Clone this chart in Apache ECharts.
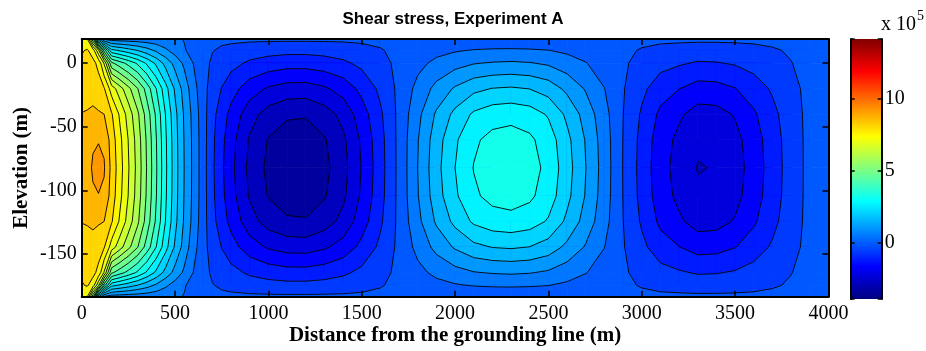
<!DOCTYPE html>
<html>
<head>
<meta charset="utf-8">
<script src="https://cdn.jsdelivr.net/npm/echarts@6/dist/echarts.min.js"></script>
<style>
html, body { margin: 0; padding: 0; background: #fff; }
#chart { width: 926px; height: 351px; }
</style>
</head>
<body>
<div id="chart"></div>
<script>
// grid nodes: distance from the grounding line (m) and elevation (m)
var distance = [0, 30, 60, 90, 120, 160, 200, 250, 300, 350, 400, 450, 500, 550, 600, 650, 700, 750, 800,
    900, 1000, 1100, 1200, 1300, 1400, 1500, 1600, 1700, 1800, 1900, 2000, 2100, 2200, 2300, 2400, 2500,
    2600, 2700, 2800, 2900, 3000, 3100, 3200, 3300, 3400, 3500, 3600, 3700, 3800, 3900, 4000];
var elevation = [18.5, 9.6, -0.4, -20.4, -40.4, -60.4, -82.4, -104.4, -124.4, -144.4, -164.4, -174.4, -183.3];

// shear stress (x 10^5), one array per elevation row
var zTop = [7.9, 7.6, 5.5, 2.2, 0.9, 0.72, 0.7, 0.68, 0.66, 0.64, 0.62, 0.6, 0.55, 0.42, 0.28, 0.1, 0, 0, 0,
    0, 0, 0, 0, 0, 0, 0, 0, 0, 0, 0, 0, 0, 0, 0, 0, 0, 0, 0, 0, 0, 0, 0, 0, 0, 0, 0, 0, 0, 0, 0, 0];
var z10 = [8.1, 8.2, 7.9, 6.6, 4.6, 2.82, 2.6, 2.34, 2.08, 1.77, 1.44, 1.09, 0.78, 0.5, 0.22, 0.03, -0.08, -0.17, -0.24,
    -0.37, -0.45, -0.49, -0.49, -0.45, -0.38, -0.26, -0.13, 0.01, 0.15, 0.29, 0.4, 0.48, 0.52, 0.53, 0.51, 0.46,
    0.35, 0.23, 0.11, -0.02, -0.13, -0.23, -0.29, -0.35, -0.34, -0.3, -0.23, -0.14, -0.06, 0.01, 0.02];
var z0 = [8.25, 8.3, 8.3, 8.0, 7.0, 4.96, 4.58, 4.12, 3.65, 3.1, 2.52, 1.91, 1.36, 0.89, 0.42, 0.06, -0.17, -0.33, -0.48,
    -0.74, -0.89, -0.98, -0.98, -0.9, -0.75, -0.52, -0.26, 0.02, 0.3, 0.58, 0.8, 0.97, 1.04, 1.07, 1.03, 0.92,
    0.7, 0.47, 0.23, -0.03, -0.26, -0.47, -0.59, -0.7, -0.68, -0.6, -0.45, -0.29, -0.11, 0.02, 0.05];
var z20 = [8.4, 8.45, 8.5, 8.4, 8.2, 7.35, 6.79, 6.11, 5.42, 4.6, 3.74, 2.84, 2.02, 1.32, 0.65, 0.1, -0.34, -0.67, -0.98,
    -1.49, -1.82, -1.98, -2.0, -1.83, -1.53, -1.05, -0.53, 0.03, 0.61, 1.17, 1.62, 1.96, 2.12, 2.17, 2.09, 1.86,
    1.42, 0.95, 0.46, -0.06, -0.52, -0.95, -1.19, -1.42, -1.39, -1.22, -0.92, -0.58, -0.23, 0.03, 0.09];
var z40 = [8.72, 8.75, 8.8, 8.75, 8.7, 8.21, 7.58, 6.82, 6.05, 5.14, 4.18, 3.17, 2.26, 1.47, 0.8, 0.13, -0.47, -0.94, -1.36,
    -2.08, -2.53, -2.76, -2.79, -2.55, -2.13, -1.46, -0.74, 0.04, 0.85, 1.63, 2.25, 2.74, 2.96, 3.02, 2.91, 2.59,
    1.98, 1.33, 0.64, -0.09, -0.72, -1.32, -1.66, -1.97, -1.94, -1.7, -1.28, -0.81, -0.32, 0.04, 0.13];
var z60 = [8.95, 9.05, 9.2, 9.2, 9.15, 8.46, 7.82, 7.03, 6.24, 5.3, 4.31, 3.27, 2.33, 1.51, 0.84, 0.15, -0.53, -1.06, -1.54,
    -2.36, -2.88, -3.14, -3.17, -2.9, -2.41, -1.66, -0.84, 0.05, 0.97, 1.85, 2.56, 3.11, 3.36, 3.43, 3.3, 2.94,
    2.25, 1.51, 0.72, -0.11, -0.82, -1.5, -1.88, -2.24, -2.2, -1.93, -1.45, -0.92, -0.37, 0.05, 0.14];
var z82 = [9.0, 9.1, 9.3, 9.55, 9.3, 8.55, 7.9, 7.1, 6.3, 5.35, 4.35, 3.3, 2.35, 1.53, 0.85, 0.15, -0.55, -1.1, -1.6,
    -2.45, -2.98, -3.25, -3.28, -3.0, -2.5, -1.72, -0.87, 0.05, 1.0, 1.92, 2.65, 3.22, 3.48, 3.55, 3.42, 3.05,
    2.33, 1.56, 0.75, -0.12, -0.85, -1.55, -1.95, -2.32, -2.28, -2.0, -1.5, -0.95, -0.38, 0.05, 0.15];
var z104 = [8.95, 9.05, 9.2, 9.22, 9.15, 8.46, 7.82, 7.03, 6.24, 5.3, 4.31, 3.27, 2.33, 1.51, 0.84, 0.15, -0.53, -1.06, -1.54,
    -2.36, -2.88, -3.14, -3.17, -2.9, -2.41, -1.66, -0.84, 0.05, 0.97, 1.85, 2.56, 3.11, 3.36, 3.43, 3.3, 2.94,
    2.25, 1.51, 0.72, -0.11, -0.82, -1.5, -1.88, -2.24, -2.2, -1.93, -1.45, -0.92, -0.37, 0.05, 0.14];
var z124 = [8.72, 8.75, 8.8, 8.75, 8.7, 8.21, 7.58, 6.82, 6.05, 5.14, 4.18, 3.17, 2.26, 1.47, 0.8, 0.13, -0.47, -0.94, -1.36,
    -2.08, -2.53, -2.76, -2.79, -2.55, -2.13, -1.46, -0.74, 0.04, 0.85, 1.63, 2.25, 2.74, 2.96, 3.02, 2.91, 2.59,
    1.98, 1.33, 0.64, -0.09, -0.72, -1.32, -1.66, -1.97, -1.94, -1.7, -1.28, -0.81, -0.32, 0.04, 0.13];
var z144 = [8.4, 8.45, 8.5, 8.4, 8.2, 7.35, 6.79, 6.11, 5.42, 4.6, 3.74, 2.84, 2.02, 1.32, 0.65, 0.1, -0.34, -0.67, -0.98,
    -1.49, -1.82, -1.98, -2.0, -1.83, -1.53, -1.05, -0.53, 0.03, 0.61, 1.17, 1.62, 1.96, 2.12, 2.17, 2.09, 1.86,
    1.42, 0.95, 0.46, -0.06, -0.52, -0.95, -1.19, -1.42, -1.39, -1.22, -0.92, -0.58, -0.23, 0.03, 0.09];
var z164 = [8.25, 8.3, 8.3, 8.0, 7.0, 4.96, 4.58, 4.12, 3.65, 3.1, 2.52, 1.91, 1.36, 0.89, 0.42, 0.06, -0.17, -0.33, -0.48,
    -0.74, -0.89, -0.98, -0.98, -0.9, -0.75, -0.52, -0.26, 0.02, 0.3, 0.58, 0.8, 0.97, 1.04, 1.07, 1.03, 0.92,
    0.7, 0.47, 0.23, -0.03, -0.26, -0.47, -0.59, -0.7, -0.68, -0.6, -0.45, -0.29, -0.11, 0.02, 0.05];
var z174 = [8.1, 8.2, 7.9, 6.6, 4.6, 2.82, 2.6, 2.34, 2.08, 1.77, 1.44, 1.09, 0.78, 0.5, 0.22, 0.03, -0.08, -0.17, -0.24,
    -0.37, -0.45, -0.49, -0.49, -0.45, -0.38, -0.26, -0.13, 0.01, 0.15, 0.29, 0.4, 0.48, 0.52, 0.53, 0.51, 0.46,
    0.35, 0.23, 0.11, -0.02, -0.13, -0.23, -0.29, -0.35, -0.34, -0.3, -0.23, -0.14, -0.06, 0.01, 0.02];
var zBottom = [7.9, 7.6, 5.5, 2.2, 0.9, 0.72, 0.7, 0.68, 0.66, 0.64, 0.62, 0.6, 0.55, 0.42, 0.28, 0.1, 0, 0, 0,
    0, 0, 0, 0, 0, 0, 0, 0, 0, 0, 0, 0, 0, 0, 0, 0, 0, 0, 0, 0, 0, 0, 0, 0, 0, 0, 0, 0, 0, 0, 0, 0];
var stress = [zTop, z10, z0, z20, z40, z60, z82, z104, z124, z144, z164, z174, zBottom];

// colour scale (x 10^5) and contour levels
var colorMin = -3.95;
var colorMax = 14.2;
var colorTicks = [0, 5, 10];
var levelCount = 33;

var levelStep = (colorMax - colorMin) / levelCount;
var levels = [];
for (var k = 0; k <= levelCount; k++) {
    levels.push(colorMin + k * levelStep);
}

// matlab jet
function jet(f) {
    function c(x) { return Math.round(255 * Math.max(0, Math.min(1, x))); }
    return 'rgb(' + c(Math.min(4 * f - 1.5, -4 * f + 4.5)) + ',' +
        c(Math.min(4 * f - 0.5, -4 * f + 3.5)) + ',' +
        c(Math.min(4 * f + 0.5, -4 * f + 2.5)) + ')';
}
var bandColors = levels.map(function(l, i) { return jet(i / levelCount); });

function bandOf(v) {
    var b = Math.floor((v - colorMin) / levelStep);
    return Math.max(0, Math.min(levelCount - 1, b));
}

// one item per grid cell: corners and the four node values
var cells = [];
for (var j = 0; j < elevation.length - 1; j++) {
    for (var i = 0; i < distance.length - 1; i++) {
        cells.push([distance[i], elevation[j], distance[i + 1], elevation[j + 1],
            stress[j][i], stress[j][i + 1], stress[j + 1][i + 1], stress[j + 1][i]]);
    }
}

function cellGeom(api) {
    var x0 = api.value(0), y0 = api.value(1), x1 = api.value(2), y1 = api.value(3);
    return {
        p: [api.coord([x0, y0]), api.coord([x1, y0]), api.coord([x1, y1]), api.coord([x0, y1])],
        v: [api.value(4), api.value(5), api.value(6), api.value(7)]
    };
}

function lerp(a, b, t) { return [a[0] + t * (b[0] - a[0]), a[1] + t * (b[1] - a[1])]; }

function regionAbove(p, v, L) {
    var out = [];
    for (var i = 0; i < 4; i++) {
        var n = (i + 1) % 4;
        var a = v[i] >= L, b = v[n] >= L;
        if (a) out.push(p[i]);
        if (a !== b) out.push(lerp(p[i], p[n], (L - v[i]) / (v[n] - v[i])));
    }
    return out;
}

function renderFill(params, api) {
    var g = cellGeom(api);
    var lo = Math.min.apply(null, g.v), hi = Math.max.apply(null, g.v);
    var kLo = bandOf(lo), kHi = bandOf(hi);
    var children = [];
    for (var k = kLo; k <= kHi; k++) {
        var poly = k === kLo ? g.p : regionAbove(g.p, g.v, levels[k]);
        if (poly.length < 3) continue;
        children.push({
            type: 'polygon',
            shape: { points: poly },
            style: { fill: bandColors[k], stroke: bandColors[k], lineWidth: 0.8 },
            silent: true
        });
    }
    return { type: 'group', children: children };
}

function renderLines(params, api) {
    var g = cellGeom(api);
    var lo = Math.min.apply(null, g.v), hi = Math.max.apply(null, g.v);
    var children = [];
    for (var k = 1; k < levelCount; k++) {
        var L = levels[k];
        if (L <= lo || L > hi) continue;
        var pts = [];
        for (var i = 0; i < 4; i++) {
            var n = (i + 1) % 4;
            if ((g.v[i] >= L) !== (g.v[n] >= L)) {
                pts.push(lerp(g.p[i], g.p[n], (L - g.v[i]) / (g.v[n] - g.v[i])));
            }
        }
        for (var s = 0; s + 1 < pts.length; s += 2) {
            children.push({
                type: 'polyline',
                shape: { points: [pts[s], pts[s + 1]] },
                style: { stroke: '#000', lineWidth: 0.9, fill: null },
                silent: true
            });
        }
    }
    return { type: 'group', children: children };
}

function renderColorbar(params, api) {
    var a = api.coord([api.value(0), api.value(3)]);
    var b = api.coord([api.value(2), api.value(1)]);
    var stops = [0, 0.125, 0.375, 0.625, 0.875, 1].map(function(f) {
        return { offset: f, color: jet(f) };
    });
    return {
        type: 'rect',
        shape: { x: a[0], y: a[1], width: b[0] - a[0], height: b[1] - a[1] },
        style: { fill: new echarts.graphic.LinearGradient(0, 1, 0, 0, stops) },
        silent: true
    };
}

var serif = '"Liberation Serif", "Times New Roman", serif';
var tickText = { fontFamily: serif, fontSize: 20, color: '#000' };
var nameText = { fontFamily: serif, fontSize: 21, fontWeight: 'bold', color: '#000' };
var blackLine = { color: '#000', width: 2 };

function frameAxis(extra) {
    var base = {
        type: 'value',
        z: 10,
        axisLine: { show: true, onZero: false, lineStyle: blackLine },
        axisTick: { show: true, inside: true, length: 6, lineStyle: { color: '#000', width: 1.5 } },
        axisLabel: { show: false },
        splitLine: { show: false }
    };
    for (var key in extra) base[key] = extra[key];
    return base;
}

var chart = echarts.init(document.getElementById('chart'));
chart.setOption({
    animation: false,
    grid: [
        { left: 81.7, top: 39, width: 746.7, height: 257.7 },
        { left: 850.7, top: 39, width: 31, height: 260 }
    ],
    xAxis: [
        frameAxis({
            gridIndex: 0, position: 'bottom', min: 0, max: 4000, interval: 500,
            axisLabel: Object.assign({ show: true, margin: 7, formatter: function(v) { return String(v); } }, tickText),
            name: 'Distance from the grounding line (m)', nameLocation: 'middle', nameGap: 28,
            nameTextStyle: nameText, nameMoveOverlap: false
        }),
        frameAxis({ gridIndex: 0, position: 'top', min: 0, max: 4000, interval: 500 }),
        { gridIndex: 1, type: 'value', min: 0, max: 1, show: false }
    ],
    yAxis: [
        frameAxis({
            gridIndex: 0, position: 'left', min: -183.3, max: 18.5, splitNumber: 4,
            axisLabel: Object.assign({
                show: true, margin: 5,
                formatter: function(v) { return v % 50 === 0 ? String(v) : ''; }
            }, tickText),
            name: 'Elevation (m)', nameLocation: 'middle', nameGap: 50,
            nameTextStyle: nameText, nameMoveOverlap: false
        }),
        frameAxis({ gridIndex: 0, position: 'right', min: -183.3, max: 18.5, splitNumber: 4 }),
        frameAxis({ gridIndex: 1, position: 'left', min: colorMin, max: colorMax, splitNumber: 4,
            axisTick: { show: true, inside: true, length: 4, lineStyle: { color: '#000', width: 1.5 } } }),
        frameAxis({
            gridIndex: 1, position: 'right', min: colorMin, max: colorMax, splitNumber: 4,
            axisTick: { show: true, inside: true, length: 4, lineStyle: { color: '#000', width: 1.5 } },
            axisLabel: Object.assign({
                show: true, margin: 3,
                formatter: function(v) { return colorTicks.indexOf(v) >= 0 ? String(v) : ''; }
            }, tickText)
        })
    ],
    series: [
        {
            type: 'custom', xAxisIndex: 0, yAxisIndex: 0, z: 1, clip: true, silent: true,
            encode: { x: [0, 2], y: [1, 3] },
            renderItem: renderFill, data: cells
        },
        {
            type: 'custom', xAxisIndex: 0, yAxisIndex: 0, z: 3, clip: true, silent: true,
            encode: { x: [0, 2], y: [1, 3] },
            renderItem: renderLines, data: cells
        },
        {
            type: 'custom', xAxisIndex: 2, yAxisIndex: 2, z: 1, silent: true,
            encode: { x: [0, 2], y: [1, 3] },
            renderItem: renderColorbar, data: [[0, colorMin, 1, colorMax]]
        }
    ],
    graphic: [
        {
            type: 'text', x: 453, y: 19,
            style: { text: 'Shear stress, Experiment A', font: 'bold 17px "Liberation Sans", Arial, sans-serif',
                fill: '#000', align: 'center', verticalAlign: 'middle' }
        },
        {
            type: 'text', x: 881, y: 25,
            style: { text: 'x 10', font: '20px ' + serif, fill: '#000', align: 'left', verticalAlign: 'middle' }
        },
        {
            type: 'text', x: 917, y: 16,
            style: { text: '5', font: '14px ' + serif, fill: '#000', align: 'left', verticalAlign: 'middle' }
        }
    ]
});
</script>
</body>
</html>
